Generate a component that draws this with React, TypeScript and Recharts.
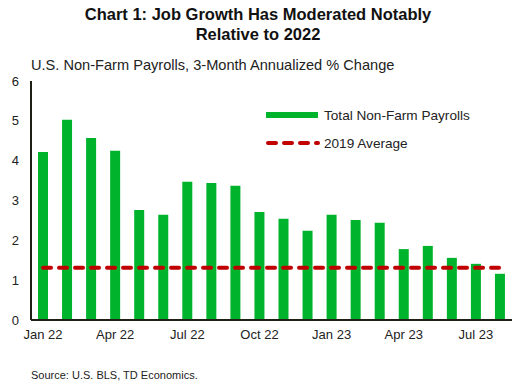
import { Bar, ComposedChart, Line, XAxis, YAxis } from 'recharts'

const months = [
  'Jan 22', 'Feb 22', 'Mar 22', 'Apr 22', 'May 22', 'Jun 22', 'Jul 22', 'Aug 22', 'Sep 22', 'Oct 22',
  'Nov 22', 'Dec 22', 'Jan 23', 'Feb 23', 'Mar 23', 'Apr 23', 'May 23', 'Jun 23', 'Jul 23', 'Aug 23',
]
const payrolls = [
  4.22, 5.03, 4.57, 4.25, 2.76, 2.64, 3.47, 3.44, 3.37, 2.71,
  2.54, 2.24, 2.64, 2.51, 2.44, 1.78, 1.86, 1.56, 1.41, 1.16,
]
const avg2019 = 1.31
const yTicks = [0, 1, 2, 3, 4, 5, 6]

const GREEN = '#00B32C'
const RED = '#C00000'
const FONT = '"Liberation Sans", Arial, sans-serif'

const chartData = months.map((m, i) => ({ month: m, total: payrolls[i], avg: avg2019 }))

// legend drawn by hand, recharts' Legend steals plot height
const LegendBox = () => (
  <div style={{ position: 'absolute', top: 105, left: 264, fontFamily: FONT, fontSize: 13.6, color: '#222' }}>
    <div style={{ display: 'flex', alignItems: 'center', height: 20 }}>
      <svg width={60} height={10}>
        <rect x={2} y={2} width={52} height={6} fill={GREEN} />
      </svg>
      <span>Total Non-Farm Payrolls</span>
    </div>
    <div style={{ display: 'flex', alignItems: 'center', height: 20, marginTop: 8 }}>
      <svg width={60} height={10}>
        <line x1={4} y1={5} x2={54} y2={5} stroke={RED} strokeWidth={4} strokeDasharray='8 8' strokeLinecap='round' />
      </svg>
      <span>2019 Average</span>
    </div>
  </div>
)

export default function App() {
  return (
    <div style={{ position: 'absolute', left: 0, top: 0, width: 516, height: 385, background: '#fff', fontFamily: FONT }}>
      <div style={{ position: 'absolute', top: 4, left: 0, width: 516, textAlign: 'center', fontWeight: 'bold', fontSize: 16.5, lineHeight: '20px', color: '#111' }}>
        Chart 1: Job Growth Has Moderated Notably
        <br />
        Relative to 2022
      </div>
      <div style={{ position: 'absolute', top: 57, left: 31, fontSize: 14.6, color: '#222' }}>
        U.S. Non-Farm Payrolls, 3-Month Annualized % Change
      </div>
      <ComposedChart
        width={516}
        height={385}
        data={chartData}
        margin={{ top: 81, right: 4, bottom: 35, left: 0 }}
        barSize={10}
      >
        <XAxis
          dataKey='month'
          interval={2}
          tickLine={false}
          axisLine={{ stroke: '#1f1f14', strokeWidth: 2 }}
          tick={{ fill: '#222', fontSize: 13, fontFamily: FONT }}
          tickMargin={4}
          height={30}
        />
        <YAxis
          domain={[0, 6]}
          ticks={yTicks}
          tickLine={false}
          axisLine={{ stroke: '#1f1f14', strokeWidth: 2 }}
          tick={{ fill: '#222', fontSize: 13, fontFamily: FONT }}
          tickMargin={6}
          width={31}
        />
        <Bar dataKey='total' name='Total Non-Farm Payrolls' fill={GREEN} isAnimationActive={false} />
        <Line
          dataKey='avg'
          name='2019 Average'
          stroke={RED}
          strokeWidth={4}
          strokeDasharray='8 8'
          strokeLinecap='round'
          dot={false}
          isAnimationActive={false}
        />
      </ComposedChart>
      <LegendBox />
      <div style={{ position: 'absolute', top: 369, left: 31, fontSize: 11, color: '#222' }}>
        Source: U.S. BLS, TD Economics.
      </div>
    </div>
  )
}
